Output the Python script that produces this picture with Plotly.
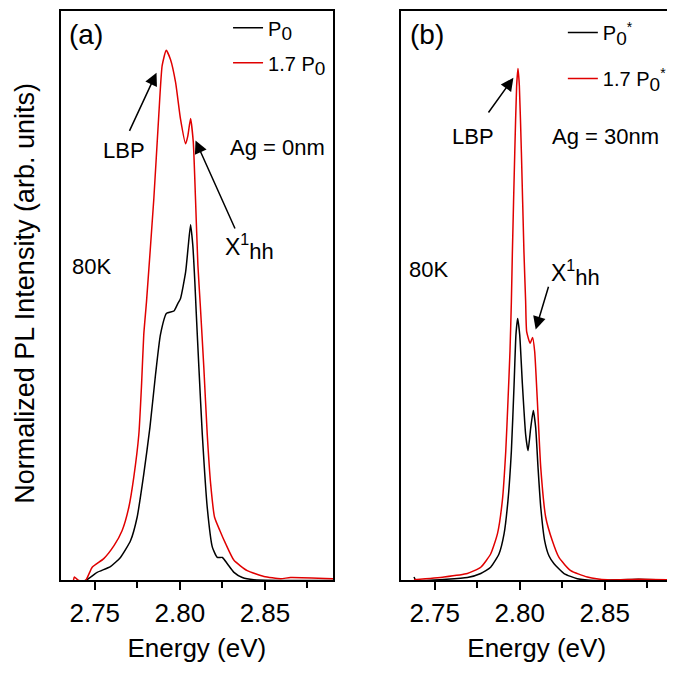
import plotly.graph_objects as go

# ---------------- data ----------------
a_black_E = [2.739, 2.7446, 2.7514, 2.7592, 2.7651, 2.771, 2.7749, 2.7788, 2.7824, 2.7857, 2.7886, 2.7922,
             2.7965, 2.7988, 2.8004, 2.8034, 2.8048, 2.8063, 2.8076, 2.8088, 2.8096, 2.8112, 2.8132, 2.8161,
             2.8191, 2.822, 2.825, 2.8279, 2.8318, 2.8367, 2.8435, 2.86, 2.89]
a_black_I = [0.0, 0.0, 0.014, 0.024, 0.040, 0.069, 0.110, 0.185, 0.266, 0.358, 0.428, 0.465,
             0.469, 0.482, 0.491, 0.537, 0.578, 0.619, 0.584, 0.520, 0.468, 0.370, 0.254, 0.127,
             0.058, 0.040, 0.040, 0.029, 0.014, 0.005, 0.001, 0.0, 0.0]

a_red_E = [2.7375, 2.738, 2.7405, 2.7446, 2.7485, 2.7553, 2.7614, 2.7661, 2.770, 2.7729, 2.7759, 2.7775,
           2.7788, 2.7804, 2.7847, 2.7876, 2.7896, 2.792, 2.7945, 2.7975, 2.8004, 2.8034, 2.8047, 2.8063,
           2.8079, 2.8092, 2.8106, 2.812, 2.8141, 2.8161, 2.8181, 2.8204, 2.8235, 2.8269, 2.8318, 2.8396,
           2.8494, 2.8592, 2.865, 2.89]
a_red_I = [0.0, 0.006, 0.0, 0.0, 0.023, 0.038, 0.061, 0.087, 0.127, 0.179, 0.254, 0.341,
           0.428, 0.485, 0.664, 0.809, 0.896, 0.923, 0.907, 0.867, 0.803, 0.760, 0.774, 0.804,
           0.763, 0.664, 0.549, 0.480, 0.370, 0.254, 0.168, 0.110, 0.087, 0.064, 0.035, 0.017,
           0.007, 0.003, 0.005, 0.003]

b_black_E = [2.7378, 2.739, 2.745, 2.7692, 2.7771, 2.7829, 2.7878, 2.7908, 2.7931, 2.7951, 2.7967, 2.7978,
             2.7988, 2.80, 2.8016, 2.8035, 2.8049, 2.8065, 2.808, 2.8094, 2.8108, 2.8124, 2.8147, 2.8172,
             2.8202, 2.8261, 2.8339, 2.845, 2.87, 2.89]
b_black_I = [0.006, 0.0, 0.0, 0.005, 0.012, 0.023, 0.046, 0.081, 0.139, 0.225, 0.341, 0.428,
             0.456, 0.428, 0.341, 0.254, 0.226, 0.266, 0.296, 0.266, 0.196, 0.127, 0.069, 0.043,
             0.029, 0.012, 0.003, 0.0, 0.002, 0.0]

b_red_E = [2.7378, 2.7555, 2.7692, 2.7771, 2.7829, 2.7869, 2.7898, 2.7918, 2.7931, 2.7943, 2.7951, 2.7957,
           2.7971, 2.7982, 2.799, 2.7998, 2.801, 2.8025, 2.8035, 2.8041, 2.8061, 2.8076, 2.8088, 2.8104,
           2.8124, 2.8153, 2.8192, 2.8231, 2.83, 2.8398, 2.8516, 2.87, 2.89]
b_red_I = [0.001, 0.006, 0.012, 0.023, 0.046, 0.081, 0.139, 0.225, 0.312, 0.400, 0.485, 0.572,
           0.745, 0.861, 0.891, 0.861, 0.745, 0.572, 0.485, 0.433, 0.413, 0.423, 0.399, 0.312,
           0.196, 0.110, 0.069, 0.040, 0.017, 0.006, 0.001, 0.002, 0.001]

x_ticks = [2.75, 2.80, 2.85]
x_tick_text = ["2.75", "2.80", "2.85"]
x_minor_ticks = [2.775, 2.825, 2.875]

FONT = "Liberation Sans, Arial, sans-serif"
BLACK = "#000000"
RED = "#e00000"


def sub(t, size):
    return f'<sub><span style="font-size:{size}px">{t}</span></sub>'


fig = go.Figure()
fig.add_trace(go.Scatter(x=a_black_E, y=a_black_I, mode="lines", xaxis="x", yaxis="y",
                         line=dict(color=BLACK, width=1.5, shape="spline", smoothing=0.5),
                         name="P" + sub("0", 19), legend="legend", legendgroup="a1"))
fig.add_trace(go.Scatter(x=a_red_E, y=a_red_I, mode="lines", xaxis="x", yaxis="y",
                         line=dict(color=RED, width=1.5, shape="spline", smoothing=0.5),
                         name="1.7 P" + sub("0", 19), legend="legend", legendgroup="a2"))
fig.add_trace(go.Scatter(x=b_black_E, y=b_black_I, mode="lines", xaxis="x2", yaxis="y2",
                         line=dict(color=BLACK, width=1.5, shape="spline", smoothing=0.5),
                         name="P" + sub("0", 19) + "<sup>*</sup>", legend="legend2", legendgroup="b1"))
fig.add_trace(go.Scatter(x=b_red_E, y=b_red_I, mode="lines", xaxis="x2", yaxis="y2",
                         line=dict(color=RED, width=1.5, shape="spline", smoothing=0.5),
                         name="1.7 P" + sub("0", 19) + "<sup>*</sup>", legend="legend2", legendgroup="b2"))

xbase = dict(range=[2.73, 2.89], tickvals=x_ticks, ticktext=x_tick_text, ticks="outside", ticklen=8,
             tickwidth=1.5, tickcolor=BLACK, showline=True, linewidth=2, linecolor=BLACK, mirror=True,
             showgrid=False, zeroline=False, tickfont=dict(family=FONT, size=26, color=BLACK),
             minor=dict(tickvals=x_minor_ticks, ticks="outside", ticklen=6, tickwidth=1.5,
                        tickcolor=BLACK, showgrid=False),
             title=dict(text="Energy (eV)", font=dict(family=FONT, size=26, color=BLACK), standoff=12))
ybase = dict(range=[0, 0.9913], showticklabels=False, ticks="", showline=True, linewidth=2,
             linecolor=BLACK, mirror=True, showgrid=False, zeroline=False)

fig.update_layout(
    width=675, height=673, margin=dict(l=0, r=0, t=0, b=0),
    paper_bgcolor="white", plot_bgcolor="white",
    xaxis=dict(domain=[0.0781, 0.4815], anchor="y", **xbase),
    yaxis=dict(domain=[0.1501, 1.0], anchor="x", **ybase),
    xaxis2=dict(domain=[0.5818, 0.9847], anchor="y2", **xbase),
    yaxis2=dict(domain=[0.1501, 1.0], anchor="x2", **ybase),
    legend=dict(x=0.326, y=1.004, xanchor="left", yanchor="top", bgcolor="rgba(0,0,0,0)",
                font=dict(family=FONT, size=20, color=BLACK), tracegroupgap=6),
    legend2=dict(x=0.822, y=0.997, xanchor="left", yanchor="top", bgcolor="rgba(0,0,0,0)",
                 font=dict(family=FONT, size=20, color=BLACK), tracegroupgap=17),
    showlegend=True,
)

ann = []


def txt(xref, yref, x, y, text, size=22):
    ann.append(dict(xref=xref, yref=yref, x=x, y=y, text=text, showarrow=False,
                    font=dict(family=FONT, size=size, color=BLACK), xanchor="center", yanchor="middle"))


def arrow(xref, yref, x, y, ax, ay):
    ann.append(dict(xref=xref, yref=yref, axref=xref, ayref=yref, x=x, y=y, ax=ax, ay=ay, text="",
                    showarrow=True, arrowhead=2, arrowsize=1.7, arrowwidth=1.5, arrowcolor=BLACK))


XH = 'X<sup>1</sup>' + sub("hh", 22)

# panel (a)
txt("x", "y", 2.7448, 0.951, "(a)", 28)
txt("x", "y", 2.7669, 0.749, "LBP")
arrow("x", "y", 2.7863, 0.884, 2.770, 0.780)
txt("x", "y", 2.8572, 0.754, "Ag = 0nm")
txt("x", "y", 2.8410, 0.580, XH, 23)
arrow("x", "y", 2.8092, 0.766, 2.8328, 0.610)
txt("x", "y", 2.7481, 0.547, "80K")

# panel (b)
txt("x2", "y2", 2.7456, 0.951, "(b)", 28)
txt("x2", "y2", 2.7724, 0.772, "LBP")
arrow("x2", "y2", 2.7963, 0.875, 2.7810, 0.812)
txt("x2", "y2", 2.8506, 0.773, "Ag = 30nm")
txt("x2", "y2", 2.8329, 0.535, XH, 23)
arrow("x2", "y2", 2.8094, 0.437, 2.8172, 0.514)
txt("x2", "y2", 2.7462, 0.542, "80K")

# y-axis title
ann.append(dict(xref="paper", yref="paper", x=0.0, y=0.578, text="Normalized PL Intensity (arb. units)",
                textangle=-90, showarrow=False, font=dict(family=FONT, size=27, color=BLACK),
                xanchor="left", yanchor="middle"))

fig.update_layout(annotations=ann)
fig.write_html("out.html")
